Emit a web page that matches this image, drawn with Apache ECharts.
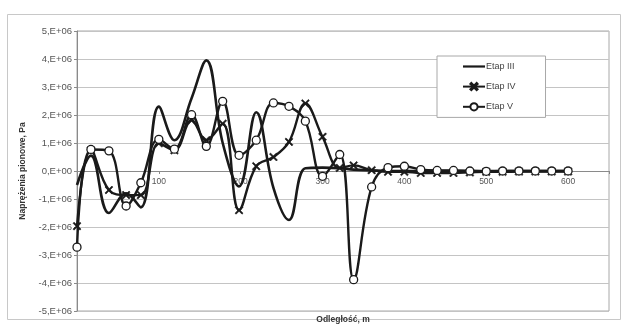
<!DOCTYPE html>
<html>
<head>
<meta charset="utf-8">
<script src="https://cdn.jsdelivr.net/npm/echarts@6/dist/echarts.min.js"></script>
<style>
  html, body { margin: 0; padding: 0; background: #fff; }
  #chart { width: 626px; height: 324px; }
</style>
</head>
<body>
<div id="chart"></div>
<script>
// Distance along the profile, m
const distance = [0, 17, 39, 60, 78, 100, 119, 140, 158, 178, 198, 219, 240, 259, 279, 300, 321, 338, 360, 380, 400, 420, 440, 460, 480, 500, 520, 540, 560, 580, 600];

// Vertical stress, MPa (multiplied by 1e6 when plotted)
const etap3 = [-0.5, 0.55, -1.5, -0.8, -1.3, 2.3, 1.1, 2.6, 3.95, 1.0, -0.55, 2.1, -0.6, -1.75, 0.1, 0.12, 0.1, 0.05, 0.02, 0.0, 0.0, 0.0, 0.0, 0.0, 0.0, 0.0, 0.0, 0.0, 0.0, 0.0, 0.0];
const etap4 = [-1.97, 0.74, -0.68, -0.86, -0.86, 0.99, 0.74, 1.81, 1.1, 1.69, -1.40, 0.17, 0.5, 1.04, 2.41, 1.22, 0.11, 0.2, 0.03, -0.03, -0.03, -0.07, -0.07, -0.07, -0.05, -0.03, -0.03, -0.02, -0.02, -0.02, -0.02];
const etap5 = [-2.72, 0.77, 0.72, -1.25, -0.42, 1.13, 0.78, 2.01, 0.88, 2.49, 0.56, 1.1, 2.43, 2.31, 1.78, -0.19, 0.59, -3.88, -0.57, 0.12, 0.17, 0.05, 0.02, 0.02, 0.0, -0.01, 0.0, 0.0, 0.0, 0.0, 0.0];

const seriesNames = ['Etap III', 'Etap IV', 'Etap V'];

// Y axis range and ticks (Pa)
const yMin = -5e6, yMax = 5e6, yStep = 1e6;
// X axis range and ticks (m)
const xMin = 0, xMax = 650, xStep = 100;

const toPairs = arr => distance.map((d, i) => [d, arr[i] * 1e6]);

const ink = '#1a1a1a';
const starPath = 'path://M0,1.3L1.3,0L5,3.7L8.7,0L10,1.3L6.3,5L10,8.7L8.7,10L5,6.3L1.3,10L0,8.7L3.7,5Z';
const linePath = 'path://M0,0L30,0L30,3L0,3Z';

const fontFam = '"Liberation Sans", Arial, sans-serif';

// plot box in pixels
const gridTop = 31, gridBottom = 13, chartH = 324;
const plotH = chartH - gridTop - gridBottom;
// the horizontal axis sits on the zero stress line
const zeroShift = plotH * (yMax / (yMax - yMin));

const chart = echarts.init(document.getElementById('chart'), null, { renderer: 'canvas' });

chart.setOption({
  animation: false,
  backgroundColor: '#fff',
  textStyle: { fontFamily: fontFam },
  grid: {
    left: 77, right: 17, top: gridTop, bottom: gridBottom,
    containLabel: false,
    outerBoundsMode: 'none',
    show: true, borderColor: '#a8a8a8', borderWidth: 1, backgroundColor: 'transparent'
  },
  legend: {
    orient: 'vertical',
    left: 437, top: 56,
    padding: [6, 30, 6, 25],
    itemGap: 11,
    itemWidth: 22, itemHeight: 9,
    backgroundColor: '#fff',
    borderColor: '#a8a8a8', borderWidth: 1,
    textStyle: { fontSize: 9, color: '#444', fontFamily: fontFam, padding: [0, 0, 0, -4] },
    data: [
      { name: seriesNames[0], icon: linePath, itemStyle: { color: ink } },
      { name: seriesNames[1] },
      { name: seriesNames[2] }
    ]
  },
  xAxis: {
    type: 'value',
    position: 'bottom',
    offset: -(plotH - zeroShift),
    min: xMin, max: xMax, interval: xStep,
    axisLine: { onZero: false, lineStyle: { color: '#8a8a8a', width: 1 } },
    axisTick: { show: true, length: 3, inside: false, lineStyle: { color: '#8a8a8a' } },
    axisLabel: {
      fontSize: 8.5, color: '#555', margin: 6,
      formatter: v => (v > 0 && v % 100 === 0) ? String(v) : ''
    },
    splitLine: { show: false },
    name: 'Odległość, m',
    nameLocation: 'middle',
    nameGap: (plotH - zeroShift) + 4,
    nameTextStyle: { fontSize: 8.5, fontWeight: 'bold', color: '#333' }
  },
  yAxis: {
    type: 'value',
    min: yMin, max: yMax, interval: yStep,
    axisLine: { show: true, onZero: false, lineStyle: { color: '#8a8a8a' } },
    axisTick: { show: true, length: 3, lineStyle: { color: '#8a8a8a' } },
    axisLabel: {
      fontSize: 9.5, color: '#555', margin: 5,
      formatter: v => v === 0 ? '0,E+00' : (Math.round(v / 1e6) + ',E+06')
    },
    splitLine: { show: true, lineStyle: { color: '#c4c4c4', width: 1 } },
    name: 'Naprężenia pionowe, Pa',
    nameLocation: 'middle',
    nameGap: 49,
    nameRotate: 90,
    nameTextStyle: { fontSize: 8.5, fontWeight: 'bold', color: '#333' }
  },
  series: [
    {
      name: seriesNames[0], type: 'line', smooth: 0.4,
      data: toPairs(etap3),
      showSymbol: false, symbol: 'none',
      lineStyle: { color: ink, width: 2.6 },
      itemStyle: { color: ink },
      z: 3
    },
    {
      name: seriesNames[1], type: 'line', smooth: 0.4,
      data: toPairs(etap4),
      symbol: starPath, symbolSize: 8,
      lineStyle: { color: ink, width: 2.4 },
      itemStyle: { color: ink, borderColor: ink, borderWidth: 0.6 },
      z: 4
    },
    {
      name: seriesNames[2], type: 'line', smooth: 0.4,
      data: toPairs(etap5),
      symbol: 'circle', symbolSize: 8,
      lineStyle: { color: ink, width: 2.4 },
      itemStyle: { color: '#fff', borderColor: ink, borderWidth: 1.3 },
      z: 5
    }
  ],
  graphic: [
    {
      type: 'rect', silent: true, z: -10,
      shape: { x: 7.5, y: 14.5, width: 613, height: 305 },
      style: { fill: 'none', stroke: '#c8c8c8', lineWidth: 1 }
    }
  ]
});
</script>
</body>
</html>
